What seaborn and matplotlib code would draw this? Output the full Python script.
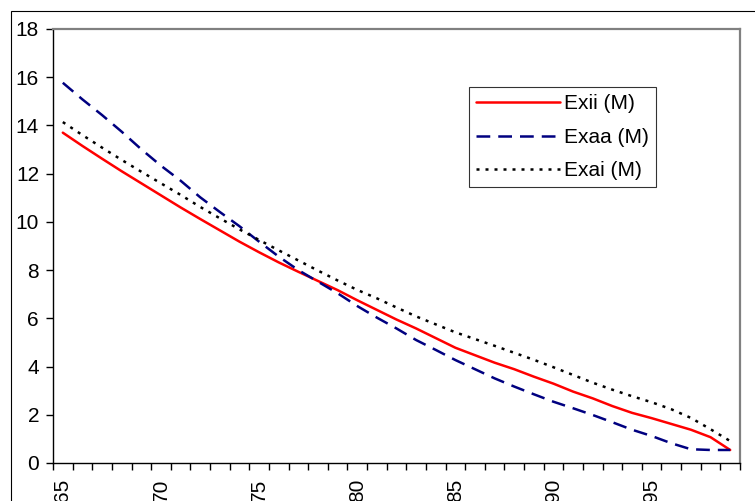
import numpy
import pandas
import seaborn
import matplotlib
from matplotlib import pyplot as plt
from matplotlib.patches import Rectangle

# edad x (65..99) y valores de cada serie
ages = list(range(65, 100))
exii = [13.70, 13.15, 12.62, 12.10, 11.60, 11.10, 10.60, 10.12, 9.65, 9.18,
        8.74, 8.32, 7.93, 7.55, 7.17, 6.75, 6.35, 5.95, 5.58, 5.18,
        4.78, 4.47, 4.16, 3.89, 3.58, 3.29, 2.96, 2.68, 2.36, 2.08,
        1.86, 1.62, 1.38, 1.07, 0.54]
exaa = [15.77, 15.08, 14.43, 13.74, 13.01, 12.33, 11.71, 11.02, 10.41, 9.82,
        9.18, 8.56, 8.00, 7.52, 7.04, 6.51, 6.03, 5.58, 5.10, 4.69,
        4.27, 3.89, 3.51, 3.17, 2.85, 2.54, 2.27, 1.99, 1.69, 1.38,
        1.12, 0.82, 0.57, 0.54, 0.54]
exai = [14.14, 13.60, 13.08, 12.57, 12.08, 11.60, 11.12, 10.62, 10.15, 9.69,
        9.25, 8.82, 8.40, 7.98, 7.57, 7.18, 6.83, 6.45, 6.08, 5.75,
        5.42, 5.14, 4.86, 4.57, 4.28, 3.97, 3.65, 3.33, 3.04, 2.77,
        2.52, 2.23, 1.87, 1.40, 0.91]
series_names = ["Exii (M)", "Exaa (M)", "Exai (M)"]
xtick_labels = [65, 70, 75, 80, 85, 90, 95]
yticks = [0, 2, 4, 6, 8, 10, 12, 14, 16, 18]

colors = {"Exii (M)": "#ff0000", "Exaa (M)": "#000080", "Exai (M)": "#000000"}
dashes = {"Exii (M)": "", "Exaa (M)": (5.5, 3.2), "Exai (M)": (1.2, 2.4)}

df = pandas.DataFrame({
    "age": ages * 3,
    "value": exii + exaa + exai,
    "series": numpy.repeat(series_names, len(ages)),
})

seaborn.set_theme(style="white")
plt.rcParams["font.family"] = ["Liberation Sans", "DejaVu Sans"]
plt.rcParams["text.color"] = "black"

fig = plt.figure(figsize=(7.55, 5.01), dpi=100)
ax = fig.add_axes([53 / 755, 38 / 501, 687 / 755, 434 / 501])

# marco exterior del grafico (cortado a derecha y abajo)
fig.add_artist(Rectangle((11 / 755, -0.2), 1.5, 1.2 - 11 / 501,
                         transform=fig.transFigure, fill=False,
                         edgecolor="black", linewidth=0.8, clip_on=False))

seaborn.lineplot(
    data=df, x="age", y="value", hue="series", style="series",
    palette=colors, dashes=dashes, hue_order=series_names,
    style_order=series_names, linewidth=1.8, ax=ax, legend=False,
)

ax.set_xlim(64.5, 99.5)
ax.set_ylim(0, 18)
ax.set_xlabel("")
ax.set_ylabel("")

ax.set_yticks(yticks)
ax.set_xticks(xtick_labels)
ax.set_xticklabels([str(v) for v in xtick_labels], rotation=90, va="top", ha="center")
ax.set_xticks(numpy.arange(64.5, 100.0, 1.0), minor=True)

ax.tick_params(axis="y", which="major", direction="out", length=5, width=1,
               color="black", labelcolor="black", labelsize=15, pad=5, left=True)
ax.tick_params(axis="x", which="major", length=0, labelsize=15, pad=11,
               labelcolor="black", bottom=True)
ax.tick_params(axis="x", which="minor", direction="out", length=5, width=1,
               color="black", bottom=True)

for side in ["left", "bottom"]:
    ax.spines[side].set_color("black")
    ax.spines[side].set_linewidth(1.0)
for side in ["top", "right"]:
    ax.spines[side].set_color("#808080")
    ax.spines[side].set_linewidth(1.6)

handles = [ax.lines[i] for i in range(3)]
legend = ax.legend(
    handles, series_names, loc="upper left", bbox_to_anchor=(0.6055, 0.866),
    borderaxespad=0, frameon=True, fancybox=False, shadow=False,
    fontsize=15, handlelength=4.0, handletextpad=0.2, labelspacing=0.69,
    borderpad=0.35,
)
legend.get_frame().set_edgecolor("black")
legend.get_frame().set_linewidth(0.8)
for text in legend.get_texts():
    text.set_color("black")

fig.savefig("out.png", dpi=100)
